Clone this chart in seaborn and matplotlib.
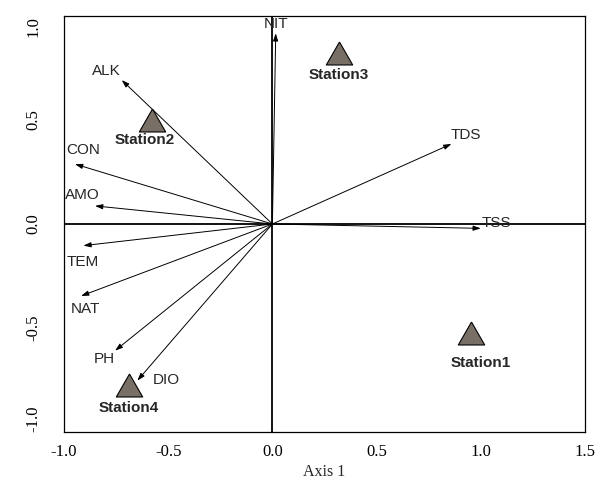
import matplotlib
matplotlib.use("Agg")
import matplotlib.pyplot as plt
import seaborn as sns
import pandas as pd
from matplotlib.path import Path

# ---- data ----
variables = ["NIT", "ALK", "CON", "AMO", "TEM", "NAT", "PH", "DIO", "TDS", "TSS"]
var_x = [0.016, -0.723, -0.947, -0.851, -0.907, -0.918, -0.755, -0.648, 0.859, 1.000]
var_y = [0.917, 0.692, 0.288, 0.087, -0.104, -0.346, -0.609, -0.753, 0.385, -0.021]
var_label_x = [0.016, -0.795, -0.907, -0.910, -0.912, -0.899, -0.808, -0.511, 0.928, 1.077]
var_label_y = [0.960, 0.737, 0.356, 0.139, -0.181, -0.409, -0.651, -0.750, 0.428, 0.003]

stations = ["Station1", "Station2", "Station3", "Station4"]
st_x = [0.954, -0.580, 0.321, -0.689]
st_y = [-0.526, 0.500, 0.821, -0.774]
st_label_x = [1.000, -0.614, 0.319, -0.691]
st_label_y = [-0.670, 0.404, 0.716, -0.883]

x_ticks = [-1.0, -0.5, 0.0, 0.5, 1.0, 1.5]
y_ticks = [-1.0, -0.5, 0.0, 0.5, 1.0]

df_st = pd.DataFrame({"x": st_x, "y": st_y, "station": stations})

sns.set_style("white")
plt.rcParams["font.family"] = ["Liberation Serif", "DejaVu Serif"]

fig = plt.figure(figsize=(5.95, 4.79), dpi=100)
ax = fig.add_axes([64 / 595, 1 - 432 / 479, (585 - 64) / 595, (432 - 16) / 479])

ax.axhline(0, color="black", lw=1.3, zorder=1)
ax.axvline(0, color="black", lw=1.3, zorder=1)

for vx, vy in zip(var_x, var_y):
    ax.annotate("", xy=(vx, vy), xytext=(0, 0),
                arrowprops=dict(arrowstyle="-|>,head_length=0.45,head_width=0.15",
                                lw=0.7, color="black", shrinkA=0, shrinkB=0),
                zorder=2)
for name, lx, ly in zip(variables, var_label_x, var_label_y):
    ax.text(lx, ly, name, ha="center", va="center", fontsize=11,
            family=["Liberation Sans", "DejaVu Sans"], zorder=4)

tri = Path([(0, 0.87), (-1, -0.87), (1, -0.87), (0, 0.87)])
sns.scatterplot(data=df_st, x="x", y="y", marker=tri, s=19 ** 2,
                color="#786f66", edgecolor="black", linewidth=0.8, ax=ax,
                zorder=3, legend=False)
for name, lx, ly in zip(stations, st_label_x, st_label_y):
    ax.text(lx, ly, name, ha="center", va="center", fontsize=11, fontweight="bold",
            family=["Liberation Sans", "DejaVu Sans"], zorder=4)

ax.set_xlim(-1.0, 1.5)
ax.set_ylim(-1.0, 1.0)
ax.set_xticks(x_ticks)
ax.set_yticks(y_ticks)
ax.set_xticklabels([f"{t:.1f}" for t in x_ticks], fontsize=12)
ax.set_yticklabels([f"{t:.1f}" for t in y_ticks], fontsize=12, rotation=90, va="center")
ax.tick_params(axis="x", direction="inout", length=5, width=0.8, pad=6, colors="black")
ax.tick_params(axis="y", direction="inout", length=5, width=0.8, pad=14, colors="black")
ylabels = ax.get_yticklabels()
ylabels[0].set_va("bottom")
ylabels[-1].set_va("top")
ax.set_xlabel("Axis 1", fontsize=11.5, labelpad=3)
ax.set_ylabel("")
for sp in ax.spines.values():
    sp.set_visible(True)
    sp.set_color("black")
    sp.set_linewidth(0.9)

fig.savefig("out.png", dpi=100)
